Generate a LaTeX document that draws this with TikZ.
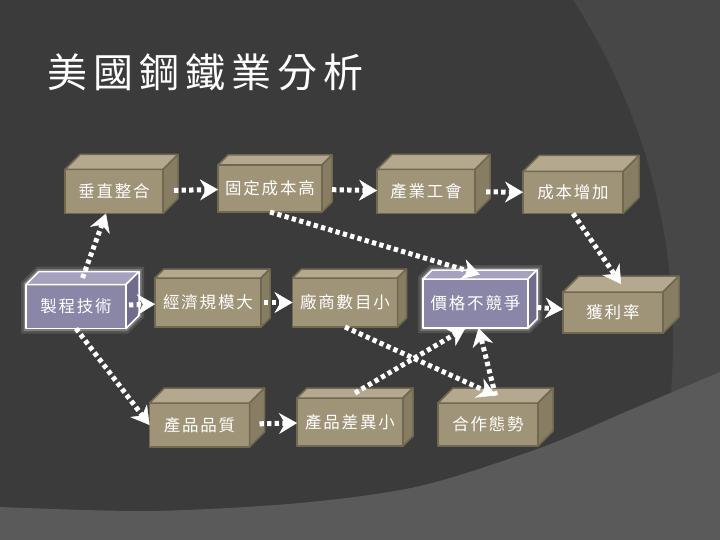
\documentclass[tikz,border=0pt]{standalone}
\usepackage{fontspec}
\newfontfamily\titlefont[LetterSpace=15]{Noto Sans CJK TC}
\newfontfamily\boxfont[LetterSpace=11]{Noto Sans CJK TC}
\usetikzlibrary{arrows.meta,calc}

\definecolor{bgdark}{HTML}{3B3B3B}
\definecolor{bgmid}{HTML}{474747}
\definecolor{bglight}{HTML}{5A5A5A}
\definecolor{boxfront}{HTML}{A09478}
\definecolor{boxtop}{HTML}{B4A98F}
\definecolor{boxside}{HTML}{877D63}
\definecolor{boxedge}{HTML}{716851}
\definecolor{hotfront}{HTML}{8A86A7}
\definecolor{hottop}{HTML}{A5A1BE}
\definecolor{hotside}{HTML}{706C8E}

\pgfdeclarelayer{background}
\pgfsetlayers{background,main}

\begin{document}
\begin{tikzpicture}[x=1pt, y=-1pt, line join=round,
    box/.style={draw=boxedge, fill=boxfront, line width=1.5pt, text=white,
                minimum width=100pt, minimum height=44pt, inner sep=0pt, outer sep=0pt,
                font=\boxfont\fontsize{16.5}{18}\selectfont},
    hot/.style={box, draw=white, fill=hotfront},
    boxface/.style={draw=boxedge, line width=1.5pt},
    hotface/.style={draw=white, line width=1.5pt},
    flow/.style={draw=white, line width=5pt, dash pattern=on 4.3pt off 3.3pt,
                 -{Stealth[length=18pt, width=21pt, inset=6pt, line width=0.5pt]}}]
    \useasboundingbox (0,0) rectangle (720,540);

    \node[white, anchor=west, inner sep=0pt,
          font=\titlefont\fontsize{40}{40}\selectfont] (title) at (47,72) {美國鋼鐵業分析};

    % first row
    \node[box, minimum width=98pt]                         (vi) at (114,191.5) {垂直整合};
    \node[box, minimum width=104pt, minimum height=47pt]   (fc) at (270,188.5) {固定成本高};
    \node[box, minimum width=98pt]                         (iu) at (426,191.5) {產業工會};
    \node[box, minimum height=42pt]                        (ci) at (573,192.5) {成本增加};

    % second row
    \node[hot]                                             (pt) at (76,306.5)  {製程技術};
    \node[box, minimum width=106pt, minimum height=49pt]   (es) at (208,302.5) {經濟規模大};
    \node[box, minimum width=105pt, minimum height=49pt]   (fn) at (345,302.5) {廠商數目小};
    \node[hot, minimum width=105pt, minimum height=49pt]   (pc) at (475.5,303.5) {價格不競爭};
    \node[box, minimum height=41pt]                        (pr) at (613,312.5) {獲利率};

    % third row
    \node[box]                                             (pq) at (199.5,425) {產品品質};
    \node[box, minimum width=106pt, minimum height=48pt]   (pd) at (350,422)   {產品差異小};
    \node[box, minimum height=43pt]                        (co) at (488,424.5) {合作態勢};

    % top and side faces
    \foreach \n/\d in {vi/15, fc/10, iu/15, ci/16, es/9, fn/9, pr/16, pq/15, pd/10, co/15} {
        \filldraw[boxface, fill=boxtop] (\n.north west) -- ++(\d,-\d)
            -- ($(\n.north east)+(\d,-\d)$) -- (\n.north east) -- cycle;
        \filldraw[boxface, fill=boxside] (\n.north east) -- ++(\d,-\d)
            -- ($(\n.south east)+(\d,-\d)$) -- (\n.south east) -- cycle;
        \coordinate (\n-top) at ($(\n.north)+(\d/2,-\d/2)$);
    }
    \foreach \n/\d in {pt/13, pc/9} {
        \filldraw[hotface, fill=hottop] (\n.north west) -- ++(\d,-\d)
            -- ($(\n.north east)+(\d,-\d)$) -- (\n.north east) -- cycle;
        \filldraw[hotface, fill=hotside] (\n.north east) -- ++(\d,-\d)
            -- ($(\n.south east)+(\d,-\d)$) -- (\n.south east) -- cycle;
        \coordinate (\n-top) at ($(\n.north)+(\d/2,-\d/2)$);
    }

    % connectors
    \draw[flow, shorten <=11pt] (vi) -- (fc);
    \draw[flow, shorten <=10pt] (fc) -- (iu);
    \draw[flow, shorten <=11pt] (iu) -- (ci);
    \draw[flow] (ci.south) -- (pr-top);
    \draw[flow] (fc.south) -- (pc-top);
    \draw[flow] (pt-top) -- (vi);
    \draw[flow, shorten <=3pt] (pt) -- (es);
    \draw[flow, shorten <=3pt] (es) -- (fn);
    \draw[flow, shorten <=9pt] (pc) -- (pr);
    \draw[flow] (pt.south) -- (pq.west);
    \draw[flow, shorten <=10pt] (pq) -- (pd);
    \draw[flow] (pd-top) -- ([xshift=-10pt]pc.south);
    \draw[flow] (co-top) -- ([xshift=3pt]pc.south);
    \draw[flow] (fn.south) -- (co-top);

    \begin{pgfonlayer}{background}
        \fill[bgmid] (0,0) rectangle (720,540);
        \fill[bgdark] (45,340) circle[radius=628];
        \fill[bglight] plot[smooth] coordinates {(0,507) (150,511) (300,503) (420,486)
            (540,448) (630,410) (720,372)} -- (720,540) -- (0,540) -- cycle;
        \foreach \n/\d in {pt/13, pc/9} {
            \draw[white, opacity=.12, line width=10pt] (\n.south west) -- (\n.north west)
                -- ++(\d,-\d) -- ($(\n.north east)+(\d,-\d)$) -- ($(\n.south east)+(\d,-\d)$)
                -- (\n.south east) -- cycle;
            \draw[white, opacity=.25, line width=5pt] (\n.south west) -- (\n.north west)
                -- ++(\d,-\d) -- ($(\n.north east)+(\d,-\d)$) -- ($(\n.south east)+(\d,-\d)$)
                -- (\n.south east) -- cycle;
        }
    \end{pgfonlayer}
\end{tikzpicture}
\end{document}
